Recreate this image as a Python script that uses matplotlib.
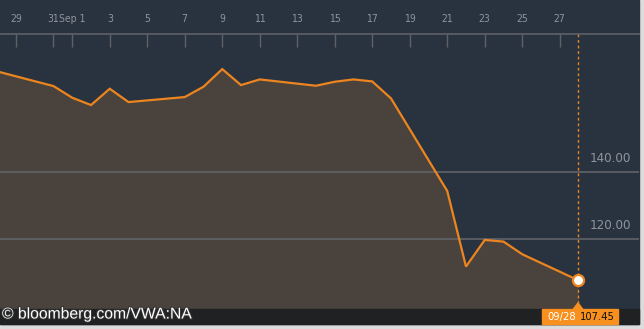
import matplotlib
matplotlib.use("Agg")
import matplotlib.pyplot as plt
import matplotlib.dates as mdates
import matplotlib.patheffects as pe
from matplotlib.patches import Rectangle, Polygon
from matplotlib.font_manager import FontProperties
import pandas as pd

# VWA:NA closing prices, Aug 28 - Sep 28 2015
dates = ['2015-08-28', '2015-08-31', '2015-09-01', '2015-09-02', '2015-09-03',
         '2015-09-04', '2015-09-07', '2015-09-08', '2015-09-09', '2015-09-10',
         '2015-09-11', '2015-09-14', '2015-09-15', '2015-09-16', '2015-09-17',
         '2015-09-18', '2015-09-21', '2015-09-22', '2015-09-23', '2015-09-24',
         '2015-09-25', '2015-09-28']
prices = [170.2, 165.8, 162.3, 160.1, 165.0,
          161.0, 162.5, 165.6, 170.9, 166.1,
          167.8, 165.9, 167.1, 167.8, 167.2,
          162.1, 134.3, 111.6, 119.6, 119.1,
          115.3, 107.45]

tick_dates = ['2015-08-29', '2015-08-31', '2015-09-01', '2015-09-03', '2015-09-05',
              '2015-09-07', '2015-09-09', '2015-09-11', '2015-09-13', '2015-09-15',
              '2015-09-17', '2015-09-19', '2015-09-21', '2015-09-23', '2015-09-25',
              '2015-09-27']
tick_labels = ['29', '31', 'Sep 1', '3', '5', '7', '9', '11', '13', '15',
               '17', '19', '21', '23', '25', '27']
grid_values = [140, 120]
grid_labels = ['140.00', '120.00']
last_label = '09/28'
last_value = '107.45'
credit = '\u00a9 bloomberg.com/VWA:NA'

NAVY = '#29333f'
FILL = '#4a423c'
ORANGE = '#ec8520'
GRID = '#5e6166'
TXT = '#8e959d'


def narrow(size):
    return FontProperties(family=['DejaVu Sans'], stretch='condensed', size=size)


W, H = 644, 329
fig = plt.figure(figsize=(W / 100, H / 100), dpi=100, facecolor='#dcdcdc')

# pixel-space layer for the panel background
bg = fig.add_axes([0, 0, 1, 1], zorder=0)
bg.set_xlim(0, W)
bg.set_ylim(H, 0)
bg.axis('off')
bg.add_patch(Rectangle((0, 0), 639, 324, color=NAVY))

x = mdates.date2num(pd.to_datetime(dates))
x0 = mdates.date2num(pd.Timestamp('2015-08-29'))
ymin, ymax = 98.86, 181.44

ax = fig.add_axes([0, 20 / H, 639 / W, 275 / H], zorder=1)
ax.patch.set_alpha(0)
ax.set_xlim(x0 - 0.853, x0 + 33.227)
ax.set_ylim(ymin, ymax)

ax.fill_between(x, prices, ymin - 5, color=FILL, lw=0, zorder=1)
for v in grid_values:
    ax.axhline(v, color=GRID, lw=1.4, alpha=0.9, zorder=2)
ax.plot(x, prices, color=ORANGE, lw=1.6, zorder=3, solid_joinstyle='miter')
ax.axvline(x[-1], color=ORANGE, lw=1, ls=(0, (2, 2)), zorder=2)
ax.plot(x[-1], prices[-1], 'o', ms=8, mfc='white', mec=ORANGE, mew=1.6, zorder=4)

for v, lab in zip(grid_values, grid_labels):
    ax.text(0.9875, v + 4.0, lab, transform=ax.get_yaxis_transform(),
            ha='right', va='center', color=TXT, fontproperties=narrow(9.5))

for s in ['left', 'right', 'bottom']:
    ax.spines[s].set_visible(False)
ax.spines['top'].set_color(GRID)
ax.spines['top'].set_linewidth(1.2)
ax.set_yticks([])
ax.xaxis.tick_top()
ax.set_xticks(mdates.date2num(pd.to_datetime(tick_dates)))
ax.set_xticklabels(tick_labels, color=TXT, fontproperties=narrow(7.5))
ax.tick_params(axis='x', direction='in', length=9.5, width=1, color=GRID, pad=7)

# bottom strip with the last value tag
top = fig.add_axes([0, 0, 1, 1], zorder=2)
top.set_xlim(0, W)
top.set_ylim(H, 0)
top.axis('off')
top.add_patch(Rectangle((0, 309), 639, 15, color='#202122'))
top.add_patch(Rectangle((542, 309), 76, 15, color='#f7901e'))
top.add_patch(Polygon([[573, 309.5], [583, 309.5], [578, 303]], color='#f7901e'))
top.text(562, 317, last_label, color='white', fontproperties=narrow(8),
         ha='center', va='center')
top.text(597, 317, last_value, color='#111111', fontproperties=narrow(8),
         ha='center', va='center')
top.text(2, 314, credit, color='white', fontsize=11.3,
         family=['Liberation Sans', 'DejaVu Sans'], ha='left', va='center',
         path_effects=[pe.withStroke(linewidth=1.5, foreground='#333333')])

fig.savefig('out.png', dpi=100, facecolor=fig.get_facecolor())
